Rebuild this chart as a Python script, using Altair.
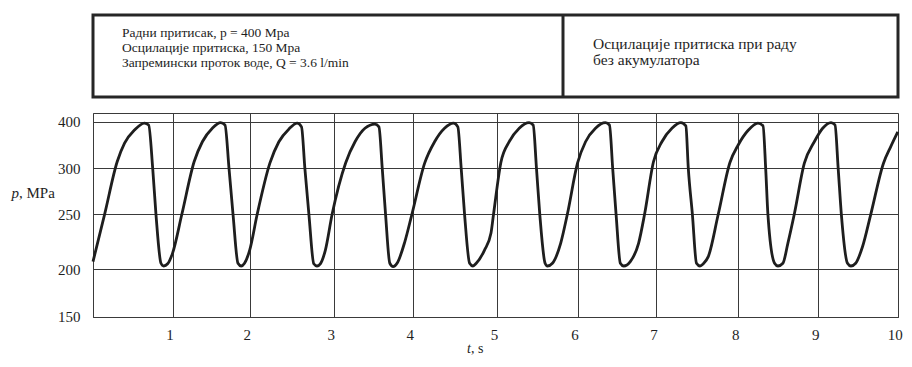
import altair as alt
import pandas as pd

# time (s) and pressure (MPa)
t_vals = [0.00, 0.146, 0.304, 0.397, 0.522, 0.647, 0.70, 0.751, 0.792, 0.855, 0.889, 0.939,
          1.00, 1.121, 1.28, 1.387, 1.516, 1.623, 1.68, 1.732, 1.784, 1.848, 1.89, 1.933,
          2.00, 2.089, 2.24, 2.347, 2.465, 2.565, 2.616, 2.656, 2.704, 2.762, 2.80, 2.84,
          2.90, 2.98, 3.151, 3.269, 3.395, 3.521, 3.572, 3.614, 3.656, 3.71, 3.752, 3.806,
          3.90, 3.99, 4.142, 4.26, 4.378, 4.485, 4.536, 4.576, 4.616, 4.676, 4.716, 4.755,
          4.853, 4.93, 4.96, 5.05, 5.153, 5.277, 5.40, 5.45, 5.491, 5.532, 5.598, 5.627, 5.689,
          5.791, 5.874, 6.00, 6.102, 6.228, 6.354, 6.405, 6.446, 6.489, 6.543, 6.585, 6.669,
          6.774, 6.85, 6.963, 7.067, 7.19, 7.30, 7.36, 7.39, 7.44, 7.49, 7.533, 7.573,
          7.634, 7.756, 7.898, 8.00, 8.122, 8.247, 8.31, 8.343, 8.371, 8.454, 8.496, 8.558,
          8.62, 8.70, 8.826, 8.95, 9.055, 9.16, 9.21, 9.25, 9.29, 9.367, 9.41, 9.47,
          9.556, 9.66, 9.82, 9.91, 10.0]
p_vals = [207, 250, 314, 354, 382, 397, 393, 300, 250, 205.5, 203, 205,
          214.5, 250, 314, 357, 386, 398, 393, 300, 250, 205.5, 203, 205.5,
          217.5, 250, 311, 357, 384, 397, 389, 300, 250, 205, 203, 205,
          217.5, 250, 312, 357, 386, 395, 389, 300, 250, 205.5, 202.5, 206,
          225, 250, 311, 357, 386, 397, 389, 300, 250, 205.5, 203, 205.5,
          217.5, 233, 250, 313, 357, 386, 398, 393, 300, 250, 205.5, 203, 205.5,
          223.6, 250, 311, 357, 386, 398, 393, 300, 250, 205.5, 203, 207,
          223.6, 250, 314, 357, 386, 398, 391, 300, 250, 205.5, 203, 205,
          211.5, 250, 312, 350, 381, 397, 391, 300, 250, 205.5, 203, 205.5,
          223.6, 250, 311, 357, 386, 398, 393, 300, 250, 205.5, 203, 205.5,
          220.5, 250, 311, 346, 378]

x_ticks = [1, 2, 3, 4, 5, 6, 7, 8, 9, 10]
y_ticks = [150, 200, 250, 300, 400]

left_lines = ["Радни притисак, p = 400 Mpa",
              "Осцилације притиска, 150 Mpa",
              "Запремински проток воде, Q = 3.6 l/min"]
right_lines = ["Осцилације притиска при раду",
               "без акумулатора"]
y_title = ["p", ", MPa"]
x_title = ["t", ", s"]

FONT = "Liberation Serif"
INK = "#1e1e1e"
GRID = "#3a3a3a"

df = pd.DataFrame({"t": t_vals, "p": p_vals})
one = pd.DataFrame({"k": [0]})

x_scale = alt.Scale(domain=list(range(11)),
                    range=[0, 79.5, 156.7, 240.8, 319.7, 403.9, 484.5, 563.4, 645.2, 725.3, 804.8],
                    nice=False, zero=False)
y_scale = alt.Scale(domain=[150, 200, 250, 300, 400, 418.7],
                    range=[203.7, 156.3, 101.3, 55.3, 8.7, 0],
                    nice=False, zero=False)

line = alt.Chart(df).mark_line(color=INK, strokeWidth=2.8, interpolate="monotone").encode(
    x=alt.X("t:Q", scale=x_scale,
            axis=alt.Axis(values=x_ticks, grid=True, gridColor=GRID, gridWidth=1,
                          ticks=False, tickSize=0, domainColor=GRID, domainWidth=1,
                          labelFont=FONT, labelFontSize=15, labelColor=INK,
                          labelPadding=10, labelOffset=-3, labelFlush=False,
                          labelOverlap=False, labelBound=False, title=None)),
    y=alt.Y("p:Q", scale=y_scale,
            axis=alt.Axis(values=y_ticks, grid=True, gridColor=GRID, gridWidth=1,
                          ticks=False, tickSize=0, domainColor=GRID, domainWidth=1,
                          labelFont=FONT, labelFontSize=15, labelColor=INK,
                          labelPadding=13, labelFlush=False, labelOverlap=False,
                          labelBound=False, title=None)),
)

box = alt.Chart(one).mark_rect(fill="white", stroke="#262626", strokeWidth=3).encode(
    x=alt.value(0), x2=alt.value(805), y=alt.value(-98), y2=alt.value(-16))
divider = alt.Chart(one).mark_rule(color="#262626", strokeWidth=3).encode(
    x=alt.value(470), y=alt.value(-98), y2=alt.value(-16))

layers = [line, box, divider]
for i, s in enumerate(left_lines):
    layers.append(alt.Chart(pd.DataFrame({"s": [s]})).mark_text(
        font=FONT, fontSize=13.5, color=INK, align="left", baseline="middle").encode(
        text="s:N", x=alt.value(29), y=alt.value(-80 + 15 * i)))
for i, s in enumerate(right_lines):
    layers.append(alt.Chart(pd.DataFrame({"s": [s]})).mark_text(
        font=FONT, fontSize=15.5, color=INK, align="left", baseline="middle").encode(
        text="s:N", x=alt.value(500), y=alt.value(-69 + 16 * i)))

layers.append(alt.Chart(pd.DataFrame({"s": [y_title[0]]})).mark_text(
    font=FONT, fontSize=15, fontStyle="italic", color=INK, align="right", baseline="middle").encode(
    text="s:N", x=alt.value(-74), y=alt.value(80)))
layers.append(alt.Chart(pd.DataFrame({"s": [y_title[1]]})).mark_text(
    font=FONT, fontSize=15, color=INK, align="left", baseline="middle").encode(
    text="s:N", x=alt.value(-74), y=alt.value(80)))
layers.append(alt.Chart(pd.DataFrame({"s": [x_title[0]]})).mark_text(
    font=FONT, fontSize=14, fontStyle="italic", color=INK, align="right", baseline="middle").encode(
    text="s:N", x=alt.value(378), y=alt.value(236)))
layers.append(alt.Chart(pd.DataFrame({"s": [x_title[1]]})).mark_text(
    font=FONT, fontSize=14, color=INK, align="left", baseline="middle").encode(
    text="s:N", x=alt.value(378), y=alt.value(236)))

chart = alt.layer(*layers).properties(
    width=805, height=204,
    autosize=alt.AutoSizeParams(type="none"),
    padding={"left": 85, "top": 105, "right": 6, "bottom": 40},
    background="white",
).configure_view(stroke=GRID, strokeWidth=1)

chart.save("out.html", embed_options={"renderer": "svg", "actions": False})
